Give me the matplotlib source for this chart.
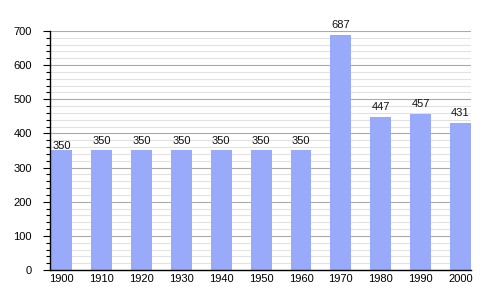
"""Population bar chart, 1900-2000."""

import matplotlib

matplotlib.use("Agg")

import matplotlib.pyplot as plt
from matplotlib.ticker import MultipleLocator

years = ["1900", "1910", "1920", "1930", "1940", "1950", "1960", "1970", "1980", "1990", "2000"]
population = [350, 350, 350, 350, 350, 350, 350, 687, 447, 457, 431]

plt.rcParams.update({
    "font.family": ["Liberation Sans", "DejaVu Sans"],
    "font.size": 8,
})

fig = plt.figure(figsize=(5, 3), dpi=100)
ax = fig.add_axes([0.1, 0.1, 0.842, 0.797])

x = list(range(len(years)))
width = 0.525
ax.bar(x, population, width, color="#99aafa", zorder=2)

for i, v in enumerate(population):
    dy = -0.5 if i == 0 else 3.5
    ax.annotate(f"{v}", (i, v), xytext=(0, dy), textcoords="offset points",
                ha="center", va="bottom", fontsize=8, color="#111111", zorder=3)

ax.set_xlim(-width / 2 - 0.03, len(years) - 1 + width / 2)
ax.set_ylim(0, 700)
ax.set_xticks(x)
ax.set_xticklabels(years)
ax.yaxis.set_major_locator(MultipleLocator(100))
ax.yaxis.set_minor_locator(MultipleLocator(20))

ax.grid(axis="y", which="major", color="#aaaaaa", linewidth=0.8, zorder=0)
ax.grid(axis="y", which="minor", color="#e2e2e2", linewidth=0.8, zorder=0)
ax.set_axisbelow(True)

ax.tick_params(axis="x", length=0, pad=3)
ax.tick_params(axis="y", which="major", length=5, width=0.8, pad=8)
ax.tick_params(axis="y", which="minor", length=3, width=0.8)

ax.spines["top"].set_visible(False)
ax.spines["right"].set_visible(False)
ax.spines["left"].set_linewidth(1.0)
ax.spines["bottom"].set_linewidth(1.0)

fig.savefig("out.png", dpi=100, facecolor="white")
